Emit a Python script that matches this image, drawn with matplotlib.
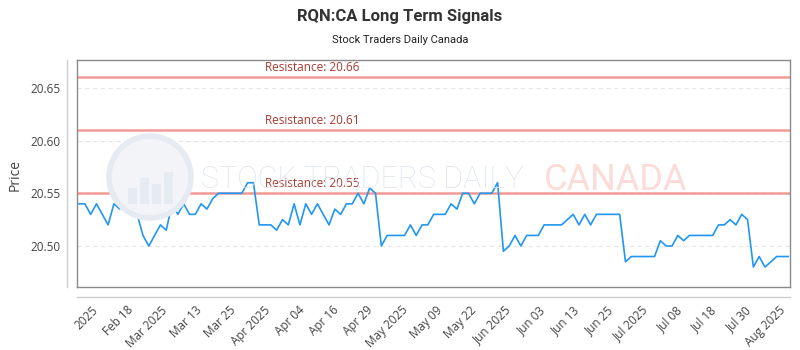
import matplotlib
matplotlib.use("Agg")
import matplotlib.pyplot as plt
import numpy as np
from matplotlib.lines import Line2D
from matplotlib.patches import Circle, Rectangle
from matplotlib.transforms import IdentityTransform

# ---------------- data ----------------
prices = [
    20.54, 20.54, 20.53, 20.54, 20.53, 20.52, 20.54, 20.535, 20.55, 20.55,
    20.53, 20.51, 20.50, 20.51, 20.52, 20.515, 20.54, 20.53, 20.54, 20.53,
    20.53, 20.54, 20.535, 20.545, 20.55, 20.55, 20.55, 20.55, 20.55, 20.56,
    20.56, 20.52, 20.52, 20.52, 20.515, 20.525, 20.52, 20.54, 20.52, 20.54,
    20.53, 20.54, 20.53, 20.52, 20.535, 20.53, 20.54, 20.54, 20.55, 20.54,
    20.555, 20.55, 20.50, 20.51, 20.51, 20.51, 20.51, 20.52, 20.51, 20.52,
    20.52, 20.53, 20.53, 20.53, 20.54, 20.535, 20.55, 20.55, 20.54, 20.55,
    20.55, 20.55, 20.56, 20.495, 20.50, 20.51, 20.50, 20.51, 20.51, 20.51,
    20.52, 20.52, 20.52, 20.52, 20.525, 20.53, 20.52, 20.53, 20.52, 20.53,
    20.53, 20.53, 20.53, 20.53, 20.485, 20.49, 20.49, 20.49, 20.49, 20.49,
    20.505, 20.50, 20.50, 20.51, 20.505, 20.51, 20.51, 20.51, 20.51, 20.51,
    20.52, 20.52, 20.525, 20.52, 20.53, 20.525, 20.48, 20.49, 20.48, 20.485,
    20.49, 20.49, 20.49,
]
resistance_levels = [20.66, 20.61, 20.55]
resistance_labels = ["Resistance: 20.66", "Resistance: 20.61", "Resistance: 20.55"]
x_tick_labels = ["2025", "Feb 18", "Mar 2025", "Mar 13", "Mar 25", "Apr 2025",
                 "Apr 04", "Apr 16", "Apr 29", "May 2025", "May 09", "May 22",
                 "Jun 2025", "Jun 03", "Jun 13", "Jun 25", "Jul 2025", "Jul 08",
                 "Jul 18", "Jul 30", "Aug 2025"]
y_ticks = [20.50, 20.55, 20.60, 20.65]
y_tick_labels = ["20.50", "20.55", "20.60", "20.65"]
title = "RQN:CA Long Term Signals"
subtitle = "Stock Traders Daily Canada"
y_label = "Price"

# ---------------- figure ----------------
W, H = 800, 350
fig = plt.figure(figsize=(W / 100, H / 100), dpi=100)
fig.patch.set_facecolor("white")

def fx(px):
    return px / W

def fy(py):
    return 1 - py / H

L, R, T, B = 77, 790, 60, 287
ax = fig.add_axes([fx(L), fy(B), fx(R) - fx(L), fy(T) - fy(B)])

xs = np.arange(len(prices))
n = len(prices)
ax.set_xlim(-0.35, n - 1 + 0.3)
ax.set_ylim(20.4611, 20.6764)

# watermark
fig.patches.append(Circle((150, H - 177), 41, transform=IdentityTransform(),
                          facecolor="#f2f4f8", edgecolor="#e6eaf1", lw=4, zorder=0))
for bx, bh in [(128, 16), (140, 26), (152, 20), (164, 32)]:
    fig.patches.append(Rectangle((bx, H - 204), 9, bh, transform=IdentityTransform(),
                                 facecolor="#e6eaf1", edgecolor="none", zorder=0))
fig.text(fx(201), fy(180), "STOCK TRADERS DAILY", fontsize=22,
         family="Roboto", fontweight="light", color="#dfe5ee",
         ha="left", va="center", zorder=0)
fig.text(fx(544), fy(180), "CANADA", fontsize=26,
         family="Roboto", color="#fcdcd8",
         ha="left", va="center", zorder=0)
ax.patch.set_alpha(0)

# grid
for yv in y_ticks:
    ax.axhline(yv, color="#e6e6e6", lw=0.8, ls=(0, (4, 3)), zorder=1)

# resistance
for lvl, lab in zip(resistance_levels, resistance_labels):
    ax.axhline(lvl, color="#f08a84", lw=1.8, alpha=0.85, zorder=2)
    ax.annotate(lab, xy=((265 - L) / (R - L), lvl),
                xycoords=("axes fraction", "data"),
                xytext=(0, 2.5), textcoords="offset points",
                ha="left", va="bottom", fontsize=8.5, family="Open Sans",
                color="#a93a30", zorder=3)

# series
ax.plot(xs, prices, color="#2196f3", lw=1.2, zorder=4)

# spines
for s in ax.spines.values():
    s.set_color("#8a8a8a")
    s.set_linewidth(1.0)

# ticks
ax.set_yticks(y_ticks)
ax.set_yticklabels(y_tick_labels, family="Open Sans", fontsize=8.5, color="#444444")
ax.tick_params(axis="y", length=0, pad=12)

tick_pos = np.linspace((101 - 79) / 5.814, (788 - 79) / 5.814, len(x_tick_labels))
ax.set_xticks(tick_pos)
ax.set_xticklabels(x_tick_labels, rotation=45, ha="right", family="Open Sans",
                   fontsize=8.5, color="#444444")
ax.tick_params(axis="x", length=0, pad=12)

ax.set_ylabel(y_label, family="Open Sans", fontsize=10, color="#444444")
ax.yaxis.set_label_coords((23 - L) / (R - L), (B - 175) / (B - T))

# outer axis lines
fig.add_artist(Line2D([fx(67), fx(67)], [fy(T), fy(B)], color="#cccccc", lw=1.0))
fig.add_artist(Line2D([fx(L), fx(R)], [fy(297), fy(297)], color="#cccccc", lw=1.0))

# titles
fig.text(0.5, fy(16), title, ha="center", va="center", fontsize=12, fontweight="bold",
         family="Roboto", color="#333333")
fig.text(0.5, fy(40), subtitle, ha="center", va="center", fontsize=8,
         family="Roboto", color="#222222")

fig.savefig("out.png", dpi=100, facecolor="white")
